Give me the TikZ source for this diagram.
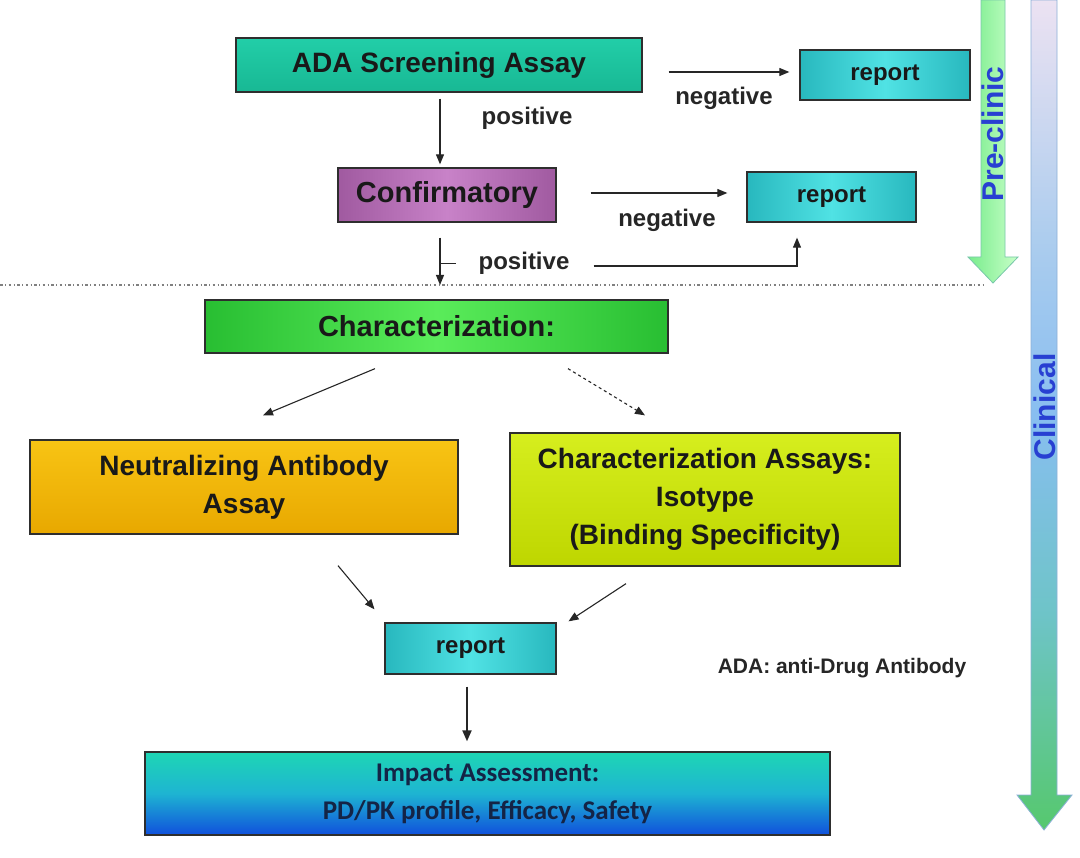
\documentclass[tikz,border=0pt]{standalone}
\usepackage{fontspec}
\setmainfont{Liberation Sans}
\newfontfamily\carlitofont{Carlito}
\usetikzlibrary{arrows.meta,calc}
\definecolor{tealA}{RGB}{34,206,168}
\definecolor{tealB}{RGB}{24,184,148}
\definecolor{cyanA}{RGB}{80,226,228}
\definecolor{cyanB}{RGB}{40,184,190}
\definecolor{purA}{RGB}{200,130,200}
\definecolor{purB}{RGB}{160,90,160}
\definecolor{grnA}{RGB}{90,236,90}
\definecolor{grnB}{RGB}{40,190,50}
\definecolor{orgA}{RGB}{248,196,20}
\definecolor{orgB}{RGB}{232,168,0}
\definecolor{ygA}{RGB}{214,238,30}
\definecolor{ygB}{RGB}{190,214,0}
\definecolor{impA}{RGB}{30,214,180}
\definecolor{impB}{RGB}{16,80,220}
\definecolor{lblblue}{RGB}{40,64,210}
\definecolor{impText}{RGB}{20,36,70}
\pgfdeclareverticalshading{clinshade}{100bp}{%
  color(0bp)=(rgb,255:red,86;green,200;blue,110);
  color(25bp)=(rgb,255:red,86;green,200;blue,110);
  color(38bp)=(rgb,255:red,110;green,196;blue,200);
  color(50bp)=(rgb,255:red,136;green,190;blue,240);
  color(60bp)=(rgb,255:red,170;green,204;blue,238);
  color(75bp)=(rgb,255:red,236;green,226;blue,242);
  color(100bp)=(rgb,255:red,236;green,226;blue,242)}
\tikzset{
  box/.style={draw=black!82, line width=1.3pt, inner sep=0pt, align=center, text=black!90},
  big/.style={font=\bfseries\fontsize{28}{33}\selectfont},
  lbl/.style={font=\bfseries\fontsize{24}{28}\selectfont, text=black!85, inner sep=0pt},
  arr/.style={-{Triangle[length=10pt,width=8pt]}, line width=1.1pt, draw=black!85},
  reportbox/.style={box, font=\bfseries\fontsize{24}{28}\selectfont, minimum height=50pt, left color=cyanB, right color=cyanB, middle color=cyanA},
  side/.style={font=\bfseries\fontsize{30}{34}\selectfont, text=lblblue, rotate=90, inner sep=0pt}
}
\begin{document}
\begin{tikzpicture}[x=1pt,y=-1pt]
\useasboundingbox (0,0) rectangle (1080,858);
\fill[white] (0,0) rectangle (1080,858);

% side arrows
\shade[left color={rgb,255:red,120;green,236;blue,140}, right color={rgb,255:red,200;green,255;blue,200}]
  (981,0) -- (1005,0) -- (1005,257) -- (1018,257) -- (993,283) -- (968,257) -- (981,257) -- cycle;
\draw[draw={rgb,255:red,120;green,200;blue,170}, line width=0.8pt]
  (981,0) -- (1005,0) -- (1005,257) -- (1018,257) -- (993,283) -- (968,257) -- (981,257) -- cycle;
\shade[shading=clinshade]
  (1031,0) -- (1057,0) -- (1057,795) -- (1072,795) -- (1044,830) -- (1017,795) -- (1031,795) -- cycle;
\draw[draw={rgb,255:red,140;green,176;blue,216}, line width=0.8pt]
  (1031,0) -- (1057,0) -- (1057,795) -- (1072,795) -- (1044,830) -- (1017,795) -- (1031,795) -- cycle;
\node[side] (pre) at (993,134) {Pre-clinic};
\node[side] (clin) at (1045,407) {Clinical};

% dotted separator
\coordinate (dl) at (0,285);
\coordinate (dr) at (985,285);
\draw[black!50, line width=1.2pt, dash pattern=on 2.5pt off 2.5pt on 1pt off 2.5pt] (dl) -- (dr);

% boxes
\node[box, big, minimum width=406pt, minimum height=54pt, top color=tealA, bottom color=tealB] (ada) at (439,65) {ADA Screening Assay};
\node[reportbox, minimum width=170pt] (r1) at (885,75) {report};
\node[box, font=\bfseries\fontsize{29}{33}\selectfont, minimum width=218pt, minimum height=54pt, left color=purB, right color=purB, middle color=purA] (conf) at (447,195) {Confirmatory};
\node[reportbox, minimum width=169pt] (r2) at (831.5,197) {report};
\node[box, font=\bfseries\fontsize{29}{33}\selectfont, minimum width=463pt, minimum height=53pt, left color=grnB, right color=grnB, middle color=grnA] (char) at (436.5,326.5) {Characterization:};
\node[box, font=\bfseries\fontsize{28}{38}\selectfont, minimum width=428pt, minimum height=94pt, top color=orgA, bottom color=orgB] (neut) at (244,487) {Neutralizing Antibody\\Assay};
\node[box, font=\bfseries\fontsize{28}{38}\selectfont, minimum width=390pt, minimum height=133pt, top color=ygA, bottom color=ygB] (ca) at (705,499.5) {Characterization Assays:\\Isotype\\(Binding Specificity)};
\node[reportbox, minimum width=171pt, minimum height=51pt] (r3) at (470.5,648.5) {report};
\node[box, text=impText, font=\carlitofont\bfseries\fontsize{27}{38}\selectfont, minimum width=685pt, minimum height=83pt, top color=impA, bottom color=impB, middle color={rgb,255:red,30;green,180;blue,210}] (imp) at (487.5,793.5) {Impact Assessment:\\PD/PK profile, Efficacy, Safety};

% labels
\node[lbl] (neg1) at (724,98) {negative};
\node[lbl] (pos1) at (527,118) {positive};
\node[lbl] (neg2) at (667,220) {negative};
\node[lbl] (pos2) at (524,263) {positive};
\node[font=\bfseries\fontsize{21}{25}\selectfont, text=black!85, inner sep=0pt] (abbr) at (842,668) {ADA: anti-Drug Antibody};

% connectors
\draw[arr, shorten <=26pt, shorten >=10pt] (ada.east |- 0,72) -- (r1.west |- 0,72);
\draw[arr, shorten <=6pt, shorten >=3pt] ($(ada.south)+(1,0)$) -- ($(conf.north)+(-7,0)$);
\draw[arr, shorten <=34pt, shorten >=19pt] (conf.east |- 0,193) -- (r2.west |- 0,193);
\coordinate (cdown) at ($(conf.south)+(-7,0)$);
\draw[arr, shorten <=15pt] (cdown) -- (cdown |- dl);
\draw[line width=1.1pt, black!85] ($(cdown)+(0,41)$) -- ++(16,0);
\draw[arr, shorten >=15pt] ($(pos2.east)+(24,3)$) -| ($(r2.south)+(-34.5,0)$);
\draw[arr] ($(char.south)+(-61.5,15)$) -- ($(neut.north)+(19,-24)$);
\draw[arr, dashed] ($(char.south)+(131.5,15)$) -- ($(ca.north)+(-60,-17)$);
\draw[arr] ($(neut.south)+(94,31)$) -- ($(r3.north)+(-96,-13)$);
\draw[arr] ($(ca.south)+(-79,17)$) -- ($(r3.north)+(98,-1)$);
\draw[arr, line width=2pt, -{Triangle[length=11pt,width=9pt]}, shorten <=12pt, shorten >=10pt] ($(r3.south)+(-3.5,0)$) -- ($(imp.north)+(-20.5,0)$);
\end{tikzpicture}
\end{document}
